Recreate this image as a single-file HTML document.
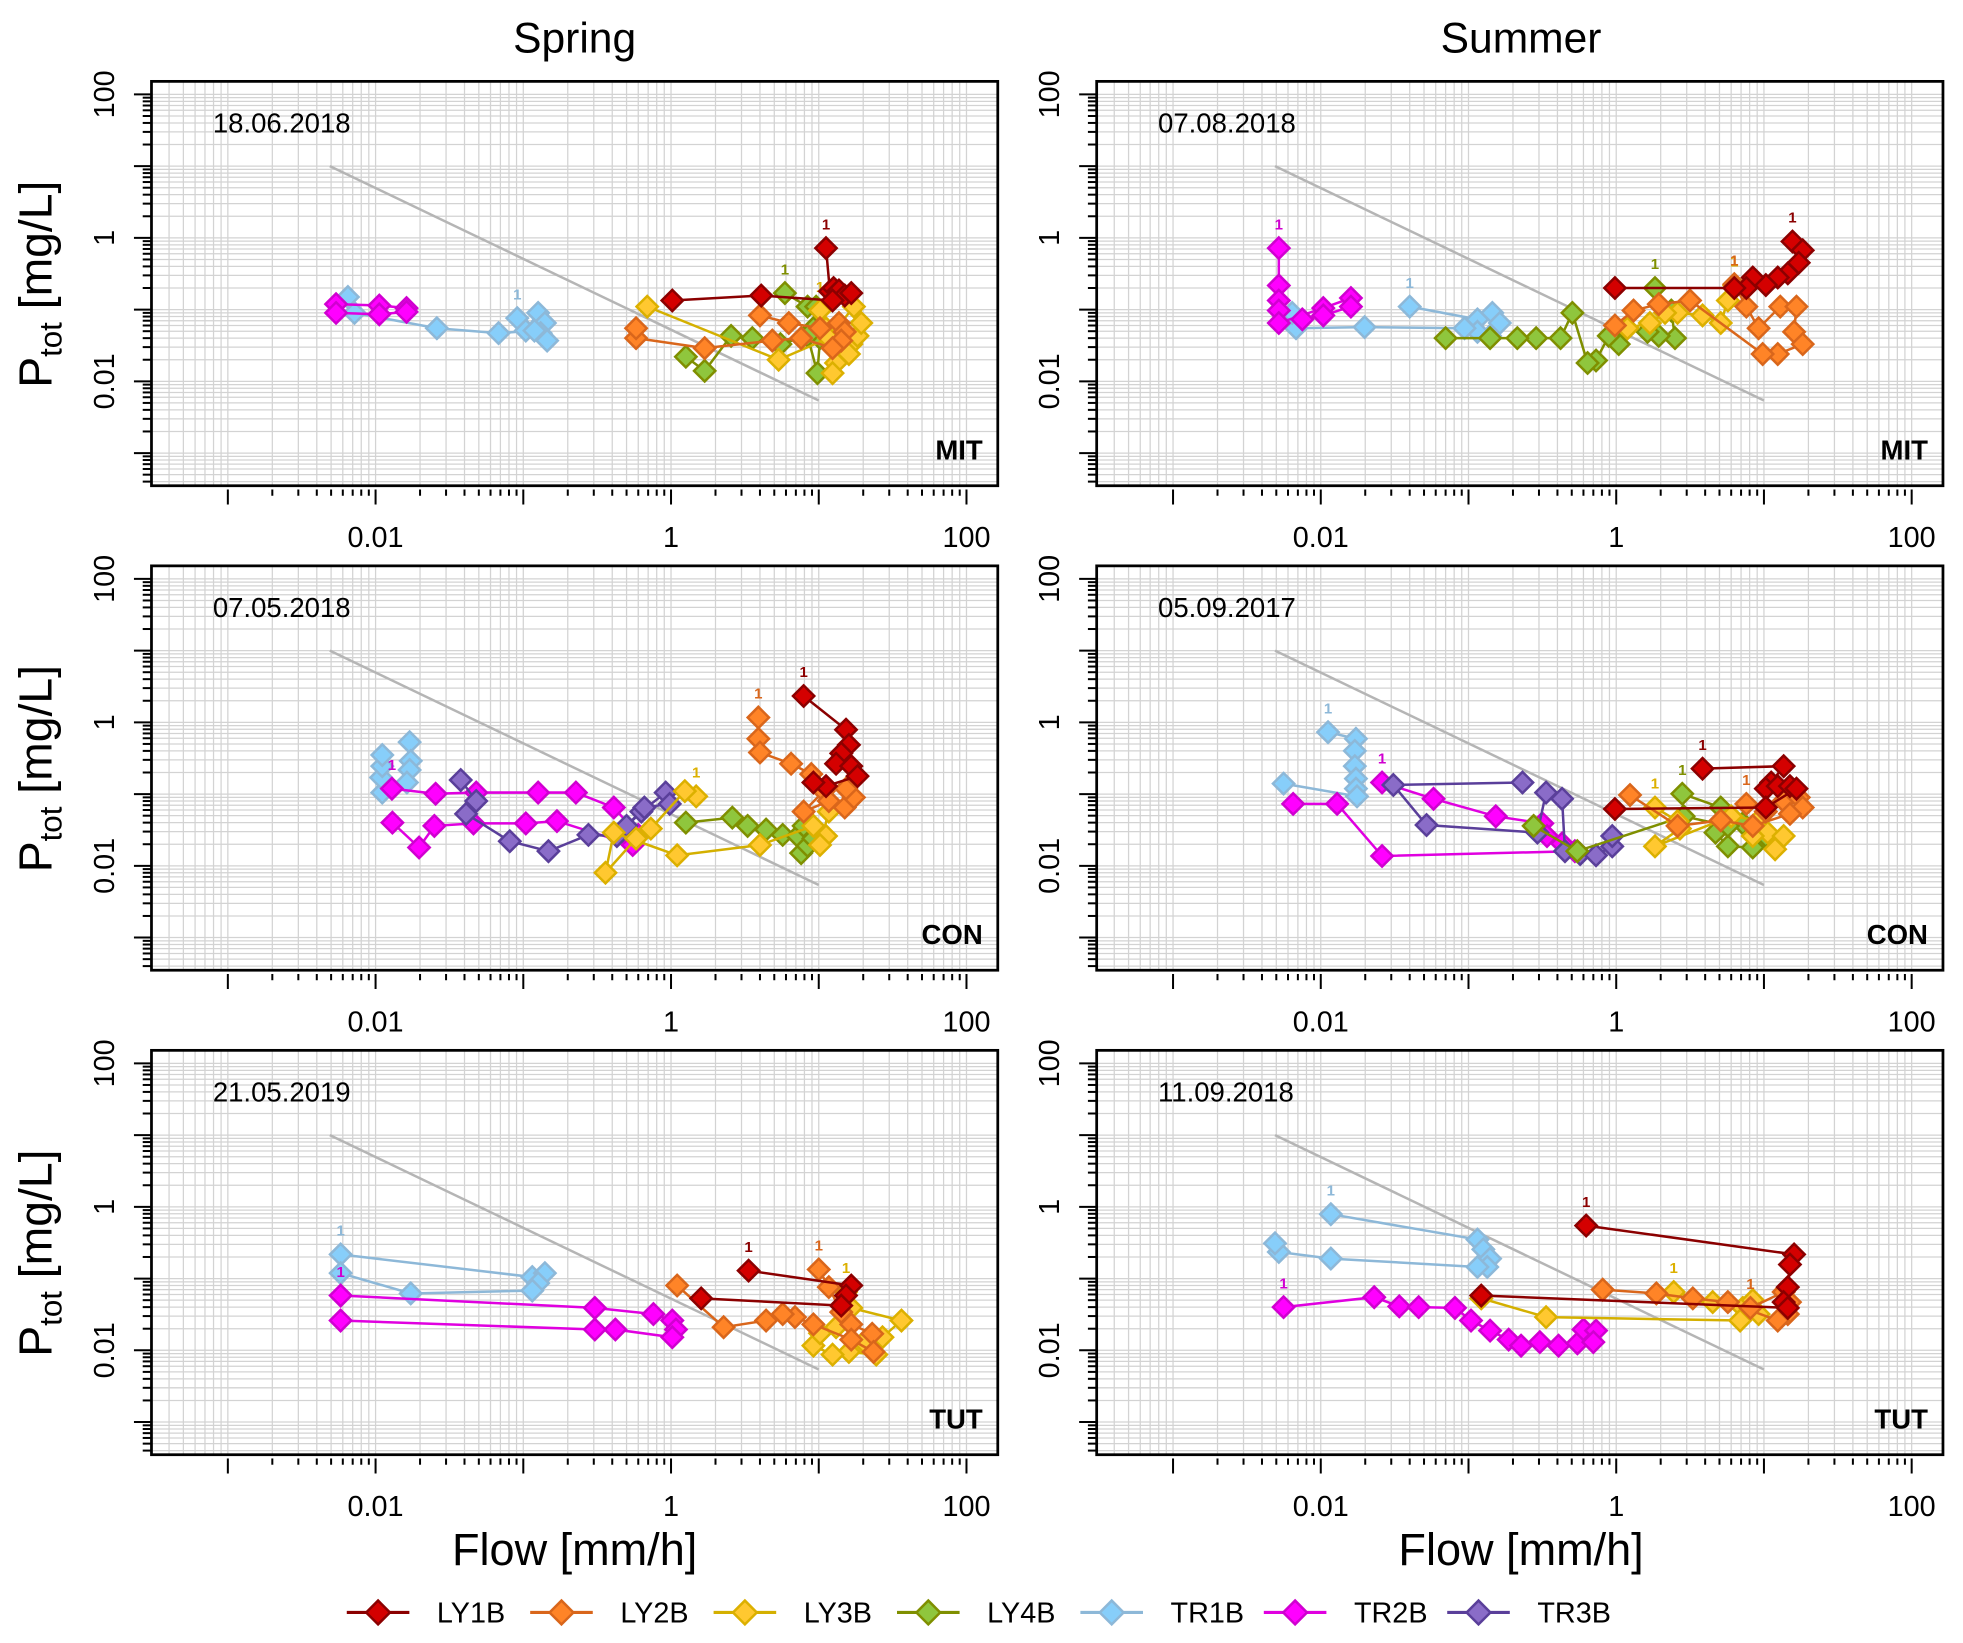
<!DOCTYPE html>
<html><head><meta charset="utf-8"><style>
html,body{margin:0;padding:0;background:#fff;}
svg{display:block;font-family:"Liberation Sans",Arial,sans-serif;}
</style></head><body>
<svg id="fig" width="1963" height="1643" viewBox="0 0 1568 1312.4" preserveAspectRatio="none" xmlns="http://www.w3.org/2000/svg">
<rect width="1568" height="1312.4" fill="#fff"/>
<text x="459" y="42" font-size="34" text-anchor="middle">Spring</text>
<text x="1215" y="42" font-size="34" text-anchor="middle">Summer</text>
<text x="459" y="1250" font-size="36" text-anchor="middle">Flow [mm/h]</text>
<text x="1215" y="1250" font-size="36" text-anchor="middle">Flow [mm/h]</text>
<g id="panels"></g>
<g id="legend"></g>
</svg>
<script>
// ---- data: flow [mm/h] and Ptot [mg/L] per panel/series ----
const SP_MIT_LY1B_Q=[11.2,11.9,12.6,13.7,15,16.6,12.4,4.08,1.02];
const SP_MIT_LY1B_P=[0.72,0.18,0.2,0.185,0.157,0.17,0.134,0.157,0.134];
const SP_MIT_LY2B_Q=[4.0,6.27,10.2,13.7,15,14.2,12.4,7.6,4.85,1.69,0.58,0.58];
const SP_MIT_LY2B_P=[0.083,0.065,0.055,0.065,0.049,0.037,0.029,0.04,0.037,0.029,0.04,0.055];
const SP_MIT_LY3B_Q=[10.2,11.2,13.7,16.6,13.1,12.4,16,18.3,19.4,17.3,11.7,5.35,0.69];
const SP_MIT_LY3B_P=[0.097,0.055,0.037,0.033,0.018,0.013,0.024,0.043,0.065,0.11,0.04,0.02,0.11];
const SP_MIT_LY4B_Q=[5.9,8.4,9.6,9.2,10.2,9.8,8.4,5.5,3.55,2.55,1.69,1.26];
const SP_MIT_LY4B_P=[0.17,0.11,0.11,0.055,0.04,0.013,0.043,0.033,0.04,0.043,0.014,0.022];
const SP_MIT_TR1B_Q=[0.091,0.104,0.126,0.14,0.131,0.145,0.119,0.068,0.026,0.0072,0.0065];
const SP_MIT_TR1B_P=[0.076,0.051,0.09,0.065,0.047,0.037,0.051,0.047,0.055,0.09,0.15];
const SP_MIT_TR2B_Q=[0.0054,0.0106,0.0162,0.0162,0.0106,0.0054];
const SP_MIT_TR2B_P=[0.119,0.114,0.105,0.093,0.086,0.09];

const SU_MIT_LY1B_Q=[15.6,18.3,17.2,14.5,12.4,10.3,8.4,7.6,6.3,0.98];
const SU_MIT_LY1B_P=[0.89,0.67,0.45,0.32,0.28,0.22,0.28,0.2,0.2,0.2];
const SU_MIT_LY2B_Q=[6.3,7.6,9.2,12.9,16.6,16,18.3,12.4,9.8,3.16,1.94,1.31,0.98];
const SU_MIT_LY2B_P=[0.226,0.11,0.055,0.11,0.11,0.049,0.033,0.024,0.024,0.134,0.119,0.097,0.06];
const SU_MIT_LY3B_Q=[6.3,5.7,5.1,3.84,2.6,2.14,1.69,1.19];
const SU_MIT_LY3B_P=[0.217,0.134,0.065,0.083,0.09,0.09,0.065,0.055];
const SU_MIT_LY4B_Q=[1.83,2.36,2.5,1.94,1.63,1.19,1.04,0.89,0.73,0.64,0.505,0.42,0.287,0.214,0.14,0.07];
const SU_MIT_LY4B_P=[0.2,0.097,0.04,0.043,0.049,0.055,0.033,0.043,0.0195,0.018,0.09,0.04,0.04,0.04,0.04,0.04];
const SU_MIT_TR1B_Q=[0.04,0.115,0.145,0.163,0.14,0.115,0.094,0.0198,0.0068,0.0064];
const SU_MIT_TR1B_P=[0.11,0.073,0.09,0.065,0.043,0.049,0.055,0.057,0.055,0.09];
const SU_MIT_TR2B_Q=[0.0052,0.0052,0.0052,0.0052,0.0052,0.0104,0.016,0.016,0.0104,0.0075];
const SU_MIT_TR2B_P=[0.72,0.217,0.134,0.097,0.065,0.105,0.145,0.11,0.083,0.073];

const SP_CON_LY1B_Q=[7.9,15.3,16,14.2,13.1,16.6,18.3,11.2,9.2];
const SP_CON_LY1B_P=[2.33,0.79,0.485,0.37,0.265,0.245,0.178,0.129,0.145];
const SP_CON_LY2B_Q=[3.9,3.9,4.0,6.5,8.9,10.8,7.9,11.7,15,17.3,15.3];
const SP_CON_LY2B_P=[1.17,0.59,0.38,0.265,0.19,0.11,0.057,0.08,0.065,0.09,0.119];
const SP_CON_LY3B_Q=[1.48,1.24,0.73,0.58,0.36,0.41,1.1,4.0,9.2,11.2,10.2,11.7];
const SP_CON_LY3B_P=[0.093,0.11,0.033,0.024,0.008,0.029,0.014,0.0195,0.036,0.026,0.0195,0.057];
const SP_CON_LY4B_Q=[1.26,2.6,3.3,4.4,5.7,7.2,7.6,8.4,9.2,7.9];
const SP_CON_LY4B_P=[0.04,0.047,0.036,0.032,0.027,0.026,0.015,0.019,0.024,0.036];
const SP_CON_TR1B_Q=[0.017,0.0173,0.017,0.0163,0.0111,0.0109,0.0111,0.0111];
const SP_CON_TR1B_P=[0.53,0.29,0.217,0.145,0.105,0.17,0.245,0.35];
const SP_CON_TR2B_Q=[0.0129,0.0255,0.048,0.126,0.227,0.41,0.6,0.55,0.169,0.104,0.046,0.025,0.0197,0.013];
const SP_CON_TR2B_P=[0.119,0.101,0.105,0.105,0.105,0.065,0.027,0.0195,0.042,0.039,0.039,0.036,0.018,0.04];
const SP_CON_TR3B_Q=[0.0377,0.048,0.041,0.081,0.148,0.276,0.43,0.63,0.92,0.98,0.66,0.5];
const SP_CON_TR3B_P=[0.157,0.08,0.053,0.022,0.016,0.027,0.026,0.057,0.105,0.073,0.065,0.036];

const SU_CON_LY1B_Q=[3.84,13.6,11.2,10.3,12.4,15,16.6,10.3,0.98];
const SU_CON_LY1B_P=[0.226,0.245,0.145,0.119,0.129,0.129,0.119,0.065,0.062];
const SU_CON_LY2B_Q=[7.6,10.3,13.6,17.2,18.3,15,8.4,5.1,2.6,1.24];
const SU_CON_LY2B_P=[0.073,0.057,0.08,0.09,0.065,0.053,0.036,0.043,0.036,0.097];
const SU_CON_LY3B_Q=[1.83,2.6,2.7,1.83,6.0,9.2,10.6,11.9,13.6,8.4];
const SU_CON_LY3B_P=[0.065,0.042,0.033,0.0187,0.049,0.043,0.029,0.017,0.026,0.026];
const SU_CON_LY4B_Q=[2.8,5.1,7.2,4.7,5.7,8.4,10.3,5.7,2.86,0.545,0.276];
const SU_CON_LY4B_P=[0.101,0.065,0.039,0.029,0.0187,0.018,0.026,0.036,0.049,0.016,0.036];
const SU_CON_TR1B_Q=[0.0112,0.0173,0.017,0.017,0.0173,0.0173,0.0176,0.0056];
const SU_CON_TR1B_P=[0.73,0.59,0.4,0.245,0.164,0.119,0.093,0.14];
const SU_CON_TR2B_Q=[0.026,0.058,0.153,0.316,0.34,0.43,0.525,0.026,0.0129,0.0065];
const SU_CON_TR2B_P=[0.145,0.086,0.049,0.039,0.026,0.0205,0.016,0.0137,0.073,0.073];
const SU_CON_TR3B_Q=[0.232,0.031,0.052,0.293,0.335,0.43,0.45,0.57,0.73,0.94,0.94];
const SU_CON_TR3B_P=[0.145,0.134,0.037,0.029,0.105,0.086,0.016,0.0146,0.014,0.0187,0.026];

const SP_TUT_LY1B_Q=[3.35,16.6,15.3,14.2,1.6];
const SP_TUT_LY1B_P=[0.129,0.08,0.058,0.042,0.053];
const SP_TUT_LY2B_Q=[10,11.7,14.2,16.6,23,23.5,16.6,9.2,6.9,5.7,4.4,2.27,1.1];
const SP_TUT_LY2B_P=[0.134,0.076,0.034,0.023,0.017,0.0095,0.0141,0.023,0.029,0.032,0.026,0.021,0.08];
const SP_TUT_LY3B_Q=[15.3,16.6,36.3,27,20.2,24.5,16,12.4,9.2,10.2,13.1];
const SP_TUT_LY3B_P=[0.065,0.039,0.026,0.0152,0.013,0.0087,0.0095,0.0087,0.0116,0.0173,0.021];
const SP_TUT_TR1B_Q=[0.0058,0.115,0.14,0.126,0.115,0.0173,0.0058];
const SP_TUT_TR1B_P=[0.217,0.105,0.119,0.086,0.068,0.062,0.119];
const SP_TUT_TR2B_Q=[0.0058,0.305,0.76,1.02,1.08,1.02,0.42,0.305,0.0058];
const SP_TUT_TR2B_P=[0.058,0.039,0.032,0.026,0.0195,0.0152,0.0195,0.0195,0.026];

const SU_TUT_LY1B_Q=[0.626,16,15,14.5,13.6,14.5,0.122];
const SU_TUT_LY1B_P=[0.548,0.217,0.157,0.076,0.047,0.039,0.058];
const SU_TUT_LY2B_Q=[8.1,13.6,15,14.5,12.4,5.7,3.3,1.87,0.81];
const SU_TUT_LY2B_P=[0.039,0.065,0.047,0.032,0.026,0.047,0.053,0.062,0.07];
const SU_TUT_LY3B_Q=[2.45,4.5,7.2,8.4,9.2,6.9,0.335,0.122];
const SU_TUT_LY3B_P=[0.065,0.047,0.039,0.05,0.032,0.026,0.029,0.053];
const SU_TUT_TR1B_Q=[0.0117,0.115,0.126,0.14,0.134,0.115,0.0117,0.0052,0.0049];
const SU_TUT_TR1B_P=[0.79,0.35,0.255,0.19,0.145,0.145,0.19,0.235,0.31];
const SU_TUT_TR2B_Q=[0.0056,0.023,0.034,0.046,0.081,0.104,0.14,0.187,0.227,0.304,0.407,0.546,0.6,0.73,0.70];
const SU_TUT_TR2B_P=[0.04,0.055,0.041,0.04,0.039,0.026,0.0188,0.0141,0.0116,0.013,0.0116,0.0125,0.0195,0.0188,0.013];

const REF_LINE_Q=[0.0049,10];
const REF_LINE_P=[10,0.0054];
const X_TICK_LABELS=["0.01","1","100"];
const X_TICK_VALUES=[0.01,1,100];
const Y_TICK_LABELS=["100","1","0.01"];
const Y_TICK_VALUES=[100,1,0.01];
const SERIES_NAMES=["LY1B","LY2B","LY3B","LY4B","TR1B","TR2B","TR3B"];

const COLORS={LY1B:["#d40000","#8b0000","#8b0000"],LY2B:["#ff8427","#d9661b","#d9661b"],LY3B:["#ffc830","#dcb000","#d4b000"],LY4B:["#8fc63d","#7f8f00","#7f8f00"],TR1B:["#87cefa","#8db8d8","#8db8d8"],TR2B:["#ff00ff","#d000d0","#e000e0"],TR3B:["#8a6cc8","#5a3f9a","#5a3f9a"]};

const PANELS=[
 {key:"spring-mit",col:0,row:0,date:"18.06.2018",site:"MIT",series:{TR1B:[SP_MIT_TR1B_Q,SP_MIT_TR1B_P],TR2B:[SP_MIT_TR2B_Q,SP_MIT_TR2B_P],LY4B:[SP_MIT_LY4B_Q,SP_MIT_LY4B_P],LY3B:[SP_MIT_LY3B_Q,SP_MIT_LY3B_P],LY2B:[SP_MIT_LY2B_Q,SP_MIT_LY2B_P],LY1B:[SP_MIT_LY1B_Q,SP_MIT_LY1B_P]},nolabel:["TR2B"]},
 {key:"summer-mit",col:1,row:0,date:"07.08.2018",site:"MIT",series:{TR1B:[SU_MIT_TR1B_Q,SU_MIT_TR1B_P],TR2B:[SU_MIT_TR2B_Q,SU_MIT_TR2B_P],LY4B:[SU_MIT_LY4B_Q,SU_MIT_LY4B_P],LY3B:[SU_MIT_LY3B_Q,SU_MIT_LY3B_P],LY2B:[SU_MIT_LY2B_Q,SU_MIT_LY2B_P],LY1B:[SU_MIT_LY1B_Q,SU_MIT_LY1B_P]},nolabel:[]},
 {key:"spring-con",col:0,row:1,date:"07.05.2018",site:"CON",series:{TR1B:[SP_CON_TR1B_Q,SP_CON_TR1B_P],TR2B:[SP_CON_TR2B_Q,SP_CON_TR2B_P],TR3B:[SP_CON_TR3B_Q,SP_CON_TR3B_P],LY4B:[SP_CON_LY4B_Q,SP_CON_LY4B_P],LY3B:[SP_CON_LY3B_Q,SP_CON_LY3B_P],LY2B:[SP_CON_LY2B_Q,SP_CON_LY2B_P],LY1B:[SP_CON_LY1B_Q,SP_CON_LY1B_P]},nolabel:["TR1B","TR3B","LY4B"]},
 {key:"summer-con",col:1,row:1,date:"05.09.2017",site:"CON",series:{TR1B:[SU_CON_TR1B_Q,SU_CON_TR1B_P],TR2B:[SU_CON_TR2B_Q,SU_CON_TR2B_P],TR3B:[SU_CON_TR3B_Q,SU_CON_TR3B_P],LY4B:[SU_CON_LY4B_Q,SU_CON_LY4B_P],LY3B:[SU_CON_LY3B_Q,SU_CON_LY3B_P],LY2B:[SU_CON_LY2B_Q,SU_CON_LY2B_P],LY1B:[SU_CON_LY1B_Q,SU_CON_LY1B_P]},nolabel:["TR3B"]},
 {key:"spring-tut",col:0,row:2,date:"21.05.2019",site:"TUT",series:{TR1B:[SP_TUT_TR1B_Q,SP_TUT_TR1B_P],TR2B:[SP_TUT_TR2B_Q,SP_TUT_TR2B_P],LY3B:[SP_TUT_LY3B_Q,SP_TUT_LY3B_P],LY2B:[SP_TUT_LY2B_Q,SP_TUT_LY2B_P],LY1B:[SP_TUT_LY1B_Q,SP_TUT_LY1B_P]},nolabel:[]},
 {key:"summer-tut",col:1,row:2,date:"11.09.2018",site:"TUT",series:{TR1B:[SU_TUT_TR1B_Q,SU_TUT_TR1B_P],TR2B:[SU_TUT_TR2B_Q,SU_TUT_TR2B_P],LY3B:[SU_TUT_LY3B_Q,SU_TUT_LY3B_P],LY2B:[SU_TUT_LY2B_Q,SU_TUT_LY2B_P],LY1B:[SU_TUT_LY1B_Q,SU_TUT_LY1B_P]},nolabel:[]}
];

const NS="http://www.w3.org/2000/svg";
function mk(tag,attrs,parent){const e=document.createElementNS(NS,tag);for(const k in attrs)e.setAttribute(k,attrs[k]);if(parent)parent.appendChild(e);return e;}
const L=Math.log10;
function sx(q,col){return 755*col+536+118*L(q);}
function sy(p,row){return 387*row+190-57.3*L(p);}
function diamond(cx,cy,r){return `M${cx},${cy-r}L${cx+r},${cy}L${cx},${cy+r}L${cx-r},${cy}Z`;}

const root=document.getElementById('panels');
PANELS.forEach(pn=>{
 const g=mk('g',{},root);
 
 
 const x0=121+755*pn.col,x1=x0+676,y0=65+387*pn.row,y1=y0+323;
 const cid='clip-'+pn.key;
 const cp=mk('clipPath',{id:cid},g);mk('rect',{x:x0,y:y0,width:676,height:323},cp);
 const grid=mk('g',{stroke:'#d3d3d3','stroke-width':1,'clip-path':`url(#${cid})`},g);
 
 
 for(let e=-4;e<=2;e++)for(let m=1;m<=9;m++){
  const v=m*Math.pow(10,e);
  const X=sx(v,pn.col);if(X>x0&&X<x1)mk('line',{x1:X,x2:X,y1:y0,y2:y1},grid);
  const Y=sy(v,pn.row);if(Y>y0&&Y<y1)mk('line',{x1:x0,x2:x1,y1:Y,y2:Y},grid);
 }
 const rl=mk('line',{x1:sx(REF_LINE_Q[0],pn.col),y1:sy(REF_LINE_P[0],pn.row),x2:sx(REF_LINE_Q[1],pn.col),y2:sy(REF_LINE_P[1],pn.row),stroke:'#b5b5b5','stroke-width':2},g);
 
 
 const sg=mk('g',{'clip-path':`url(#${cid})`},g);
 for(const name in pn.series){
  const [Q,P]=pn.series[name];const c=COLORS[name];
  const s=mk('g',{},sg);
  
  
  const pts=Q.map((q,i)=>sx(q,pn.col)+','+sy(P[i],pn.row)).join(' ');
  mk('polyline',{points:pts,fill:'none',stroke:c[2],'stroke-width':2},s);
  Q.forEach((q,i)=>{
   const d=mk('path',{d:diamond(sx(q,pn.col),sy(P[i],pn.row),8.5),fill:c[0],stroke:c[1],'stroke-width':2},s);
   
   
  });
  if(pn.nolabel.indexOf(name)<0){
   const t=mk('text',{x:sx(Q[0],pn.col),y:sy(P[0],pn.row)-15,'font-size':12,'font-weight':'bold','text-anchor':'middle',fill:c[1]},s);
   t.textContent='1';
   
   
  }
 }
 const fr=mk('rect',{x:x0,y:y0,width:676,height:323,fill:'none',stroke:'#000','stroke-width':2.2},g);
 
 
 const xa=mk('g',{stroke:'#000','stroke-width':1.6},g);
 
 
 for(let e=-3;e<=2;e++)for(let m=1;m<=9;m++){
  const v=m*Math.pow(10,e);if(v>100.5)continue;
  const X=sx(v,pn.col);mk('line',{x1:X,x2:X,y1:y1+3,y2:y1+(m===1?15:8)},xa);
 }
 X_TICK_VALUES.forEach((v,i)=>{
  const t=mk('text',{x:sx(v,pn.col),y:y1+49,'font-size':23,'text-anchor':'middle',fill:'#000',stroke:'none'},g);
  t.textContent=X_TICK_LABELS[i];
  
  
 });
 const ya=mk('g',{stroke:'#000','stroke-width':1.6},g);
 
 
 for(let e=-4;e<=2;e++)for(let m=1;m<=9;m++){
  const v=m*Math.pow(10,e);const Y=sy(v,pn.row);
  if(Y<y0+3||Y>y1-3)continue;
  mk('line',{x1:x0-(m===1?14:7),x2:x0,y1:Y,y2:Y},ya);
 }
 Y_TICK_VALUES.forEach((v,i)=>{
  const X=x0-30,Y=sy(v,pn.row);
  const t=mk('text',{x:X,y:Y,'font-size':23,'text-anchor':'middle',transform:`rotate(-90 ${X} ${Y})`,fill:'#000',stroke:'none'},g);
  t.textContent=Y_TICK_LABELS[i];
  
  
 });
 if(pn.col===0){
  const YX=x0-80,YY=y0+162;
  const yt=mk('text',{x:YX,y:YY,'font-size':37,'text-anchor':'middle',transform:`rotate(-90 ${YX} ${YY})`},g);
  yt.innerHTML='P<tspan font-size="25" dy="8">tot</tspan><tspan dy="-8"> [mg/L]</tspan>';
  
  
 }
 const dt=mk('text',{x:x0+49,y:y0+41,'font-size':22},g);dt.textContent=pn.date;
 
 
 const st=mk('text',{x:x1-12,y:y1-21,'font-size':22,'font-weight':'bold','text-anchor':'end'},g);st.textContent=pn.site;
 
 
});

const lg=document.getElementById('legend');
SERIES_NAMES.forEach((n,i)=>{
 const x=277+146.5*i,y=1288,c=COLORS[n];
 const e=mk('g',{},lg);
 
 
 mk('line',{x1:x,x2:x+50,y1:y,y2:y,stroke:c[2],'stroke-width':2.5},e);
 mk('path',{d:diamond(x+25,y,9.5),fill:c[0],stroke:c[1],'stroke-width':2},e);
 const t=mk('text',{x:x+72,y:y+8,'font-size':23},e);t.textContent=n;
});
</script>
</body></html>
